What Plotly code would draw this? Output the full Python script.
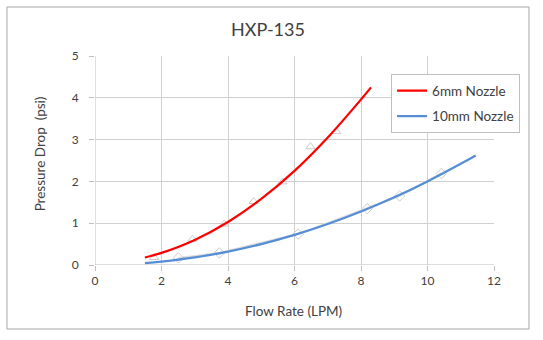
import plotly.graph_objects as go

# Measured points (flow rate in LPM, pressure drop in psi)
flow_6mm = [1.78, 2.93, 3.89, 4.77, 5.64, 6.48, 7.26]
dp_6mm = [0.18, 0.62, 0.98, 1.52, 1.99, 2.83, 3.19]

flow_10mm = [2.51, 3.74, 6.11, 8.19, 9.16, 10.42]
dp_10mm = [0.17, 0.29, 0.74, 1.35, 1.65, 2.19]

# Trend curves for each nozzle
trend_x_6mm = [1.5, 2, 3, 4, 5, 6, 7, 8, 8.3]
trend_y_6mm = [0.18, 0.29, 0.60, 1.03, 1.58, 2.25, 3.05, 3.96, 4.25]

trend_x_10mm = [1.5, 2, 3, 4, 5, 6, 7, 8, 9, 10, 11, 11.45]
trend_y_10mm = [0.045, 0.08, 0.18, 0.32, 0.50, 0.72, 0.98, 1.28, 1.62, 2.0, 2.42, 2.62]

x_ticks = [0, 2, 4, 6, 8, 10, 12]
y_ticks = [0, 1, 2, 3, 4, 5]

FONT = "Lato"
GRID = "#d0d0d0"
PT_GREY = "#cccccc"
TXT = "#404040"

fig = go.Figure()

# measured data: hollow grey markers (10mm points joined by a faint line)
fig.add_trace(go.Scatter(
    x=flow_6mm, y=dp_6mm, mode="markers", showlegend=False,
    marker=dict(symbol="triangle-up-open", size=8, color=PT_GREY, line=dict(width=1)),
    hoverinfo="skip",
))
fig.add_trace(go.Scatter(
    x=flow_10mm, y=dp_10mm, mode="lines+markers", showlegend=False,
    line=dict(color="#dcdcdc", width=2),
    marker=dict(symbol="diamond-open", size=8, color=PT_GREY, line=dict(width=1)),
    hoverinfo="skip",
))

# trend curves
fig.add_trace(go.Scatter(
    x=trend_x_6mm, y=trend_y_6mm, mode="lines", name="6mm Nozzle",
    legendgroup="a",
    line=dict(color="#ff0000", width=2.25, shape="spline"),
))
fig.add_trace(go.Scatter(
    x=trend_x_10mm, y=trend_y_10mm, mode="lines", name="10mm Nozzle",
    legendgroup="b",
    line=dict(color="#558ed5", width=2.25, shape="spline"),
))

axis_common = dict(
    showgrid=True, gridcolor=GRID, gridwidth=1,
    zeroline=False, showline=False,
    ticks="outside", ticklen=5, tickcolor="#bfbfbf",
    tickfont=dict(family=FONT, size=12, color=TXT),
)

fig.update_xaxes(range=[0, 12], tickvals=x_ticks, **axis_common)
fig.update_yaxes(range=[0, 5], tickvals=y_ticks, ticklabelstandoff=8, **axis_common)

# axis lines along x=0 and y=0
fig.add_shape(type="line", xref="x", yref="y", x0=0, x1=12, y0=0, y1=0,
              line=dict(color="#bfbfbf", width=1), layer="below")
fig.add_shape(type="line", xref="x", yref="y", x0=0, x1=0, y0=0, y1=5,
              line=dict(color="#bfbfbf", width=1), layer="below")

# chart-area border
fig.add_shape(type="rect", xref="paper", yref="paper",
              x0=-0.2206, x1=1.0877, y0=-0.3062, y1=1.2344,
              line=dict(color="#a6a6a6", width=1), fillcolor="rgba(0,0,0,0)")

fig.add_annotation(text="Flow Rate (LPM)", xref="paper", yref="paper",
                   x=0.4975, y=-0.2208, showarrow=False, xanchor="center", yanchor="middle",
                   font=dict(family=FONT, size=13.5, color=TXT))
fig.add_annotation(text="Pressure Drop\u00a0\u00a0(psi)", xref="paper", yref="paper",
                   x=-0.1379, y=0.534, showarrow=False, textangle=-90,
                   xanchor="center", yanchor="middle",
                   font=dict(family=FONT, size=13.5, color=TXT))

fig.update_layout(
    width=543, height=340,
    margin=dict(l=95, r=49, t=56, b=75),
    paper_bgcolor="white", plot_bgcolor="white",
    title=dict(text="HXP-135", x=0.4936, xanchor="center", xref="container",
               y=0.912, yanchor="middle", yref="container",
               font=dict(family=FONT, size=18, color=TXT)),
    legend=dict(x=0.742, y=0.912, xanchor="left", yanchor="top",
                bgcolor="white", bordercolor="#bfbfbf", borderwidth=1,
                font=dict(family=FONT, size=13.5, color=TXT),
                traceorder="grouped", tracegroupgap=5),
    showlegend=True,
)

fig.write_html("out.html")
